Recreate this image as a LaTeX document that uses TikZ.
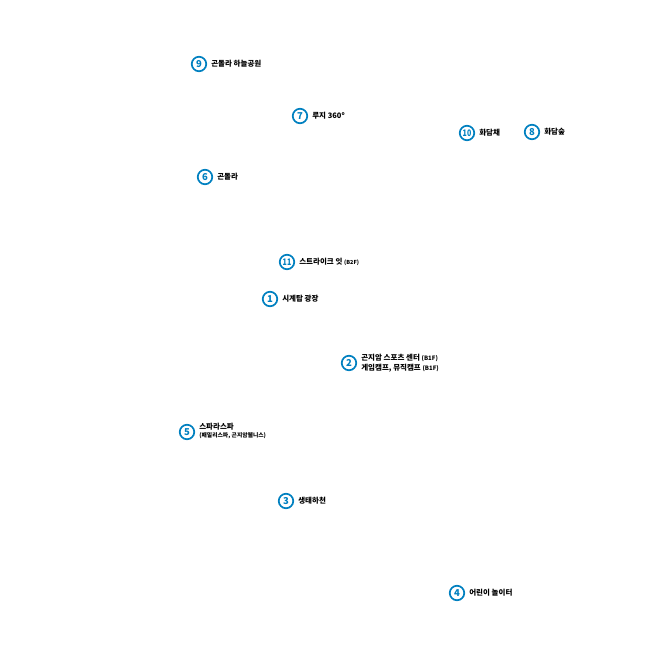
\documentclass[tikz,border=0pt]{standalone}
\usepackage{fontspec}
\setmainfont{Liberation Sans}
\newfontfamily\krfont{Noto Sans CJK KR}
\usepackage{tikz}
\usetikzlibrary{positioning}

\definecolor{spotblue}{RGB}{0,128,192}

\begin{document}
\begin{tikzpicture}[
        x=1pt, y=-1pt,
        spot/.style={circle, draw=spotblue, line width=1.7pt, minimum size=14.5pt, inner sep=0pt,
            text=spotblue, font=\krfont\bfseries\fontsize{9.5}{10}\selectfont},
        twospot/.style={spot, font=\krfont\bfseries\fontsize{9}{10}\selectfont},
        spotlabel/.style={font=\krfont\bfseries\fontsize{7.5}{9.5}\selectfont, align=left, inner sep=0pt},
    ]
        \useasboundingbox (0,0) rectangle (660,670);

        % Numbered spots with one-line labels
        \foreach \num/\px/\py/\txt in {
                9/199/64/{곤돌라 하늘공원},
                8/532/132/{화담숲},
                6/205/177/{곤돌라},
                1/270/299/{시계탑 광장},
                3/286/501/{생태하천},
                4/457/593/{어린이 놀이터}} {
            \node[spot] (s\num) at (\px,\py) {\num};
            \node[spotlabel, right=4pt of s\num] (l\num) {\txt};
        }

        % Two-digit spots (squeezed into the circle)
        \node[twospot] (s10) at (467,133) {\scalebox{0.78}[1]{10}};
        \node[spotlabel, right=4pt of s10] (l10) {화담채};

        \node[twospot] (s11) at (287,262) {\scalebox{0.78}[1]{11}};
        \node[spotlabel, right=4pt of s11] (l11) {스트라이크 잇 {\fontsize{5.5}{6}\selectfont (B2F)}};

        % Spots with special labels
        \node[spot] (s7) at (300,116) {7};
        \node[spotlabel, right=4pt of s7] (l7) {루지 360\textsuperscript{\fontsize{5}{5}\selectfont o}};

        \node[spot] (s2) at (349,363) {2};
        \node[spotlabel, right=4pt of s2] (l2) {곤지암 스포츠 센터 {\fontsize{6}{6}\selectfont (B1F)}\\
            게임캠프, 뮤직캠프 {\fontsize{6}{6}\selectfont (B1F)}};

        \node[spot] (s5) at (187,432) {5};
        \node[spotlabel, right=4pt of s5, yshift=1pt] (l5) {스파라스파\\[-1.5pt]
            {\fontsize{5.8}{6}\selectfont (패밀리스파, 곤지암웰니스)}};
    \end{tikzpicture}
\end{document}
